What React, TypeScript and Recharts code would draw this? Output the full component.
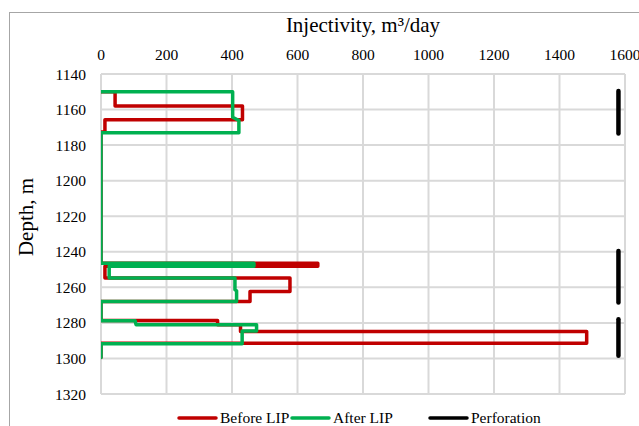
import React from 'react';
import { ScatterChart, Scatter, XAxis, YAxis, CartesianGrid, Legend, Label } from 'recharts';

// Axis ticks
const depthTicks = [1140, 1160, 1180, 1200, 1220, 1240, 1260, 1280, 1300, 1320];
const rateTicks = [0, 200, 400, 600, 800, 1000, 1200, 1400, 1600];

// Injectivity profile before LIP treatment (step outline, depth m / rate m3/day)
const beforeDepth = [1150, 1150, 1158, 1158, 1165.8, 1165.8, 1172.6, 1172.6, 1246.5, 1246.5, 1248.2, 1248.2, 1254.7, 1254.7, 1262.3, 1262.3, 1268, 1268, 1278.6, 1278.6, 1281, 1281, 1284.8, 1284.8, 1291.5, 1291.5, 1299.5];
const beforeRate = [0, 43, 43, 432, 432, 12, 12, 0, 0, 662, 662, 12, 12, 577, 577, 455, 455, 0, 0, 356, 356, 426, 426, 1483, 1483, 0, 0];

// Injectivity profile after LIP treatment
const afterDepth = [1150, 1150, 1164.3, 1166.2, 1173, 1173, 1246.5, 1246.5, 1248.2, 1248.2, 1254.7, 1254.7, 1261.3, 1262, 1268, 1268, 1278.8, 1278.8, 1281, 1281, 1284.5, 1284.5, 1291.7, 1291.7, 1299.5];
const afterRate = [0, 402, 402, 421, 421, 0, 0, 467, 467, 25, 25, 409, 409, 414, 414, 0, 0, 104, 107, 475, 475, 431, 431, 0, 0];

// Perforated intervals
const perfTop = [1149.5, 1239.5, 1278];
const perfBottom = [1173.5, 1268.5, 1298.5];
const perfRate = 1580;

const RED = '#C00000';
const GREEN = '#00B050';
const BLACK = '#000000';
const FONT = "'Liberation Serif', 'Times New Roman', serif";

const toPoints = (depth: number[], rate: number[]) =>
  depth.map((d, i) => ({ d, q: rate[i] }));

const beforeData = toPoints(beforeDepth, beforeRate);
const afterData = toPoints(afterDepth, afterRate);
const perfData = perfTop.map((t, i) => [
  { d: t, q: perfRate },
  { d: perfBottom[i], q: perfRate },
]);

const legendItems = [
  { name: 'Before LIP', color: RED, x: 179 },
  { name: 'After LIP', color: GREEN, x: 292 },
  { name: 'Perforation', color: BLACK, x: 430 },
];

const noDot = () => <g />;

const LegendContent = () => (
  <svg width={639} height={18} style={{ display: 'block', overflow: 'visible' }}>
    {legendItems.map((it) => (
      <g key={it.name}>
        <line x1={it.x} x2={it.x + 37} y1={10} y2={10} stroke={it.color} strokeWidth={3.5} strokeLinecap="round" />
        <text x={it.x + 41} y={15} fontFamily={FONT} fontSize={15.5} fill="#000">
          {it.name}
        </text>
      </g>
    ))}
  </svg>
);

// Serif tick labels: depth ticks are vertically centred, rate ticks sit on their baseline
const DepthTick = (props: any) => (
  <text x={props.x} y={props.y} dy="0.355em" textAnchor="end" fontFamily={FONT} fontSize={15.5} fill="#000">
    {props.payload.value}
  </text>
);

const RateTick = (props: any) => (
  <text x={props.x} y={props.y} textAnchor="middle" fontFamily={FONT} fontSize={15.5} fill="#000">
    {props.payload.value}
  </text>
);

export default function App() {
  return (
    <div
      style={{
        position: 'absolute',
        left: 0,
        top: 0,
        width: 639,
        height: 426,
        overflow: 'hidden',
        background: '#fff',
        fontFamily: FONT,
      }}
    >
      <div
        style={{
          position: 'absolute',
          left: 9,
          top: 12,
          width: 700,
          height: 500,
          border: '1.5px solid #a6a6a6',
          boxSizing: 'border-box',
        }}
      />
      <div style={{ position: 'absolute', left: 0, top: 0 }}>
        <ScatterChart width={639} height={426} margin={{ top: 34, left: 41, right: 14, bottom: 32 }}>
          <CartesianGrid stroke="#d9d9d9" strokeWidth={2} />
          <XAxis
            type="number"
            dataKey="q"
            orientation="top"
            domain={[0, 1600]}
            ticks={rateTicks}
            interval={0}
            allowDataOverflow
            height={40}
            tickSize={0}
            tickMargin={14}
            axisLine={false}
            tick={RateTick}
          >
            <Label
              content={({ viewBox }: any) => (
                <text
                  x={viewBox.x + viewBox.width / 2}
                  y={viewBox.y - 2}
                  textAnchor="middle"
                  fontFamily={FONT}
                  fontSize={21}
                  fill="#000"
                >
                  Injectivity, m³/day
                </text>
              )}
            />
          </XAxis>
          <YAxis
            type="number"
            dataKey="d"
            reversed
            domain={[1140, 1320]}
            ticks={depthTicks}
            interval={0}
            allowDataOverflow
            width={60}
            tickSize={0}
            tickMargin={15}
            axisLine={false}
            tick={DepthTick}
          >
            <Label
              content={({ viewBox }: any) => {
                const cx = viewBox.x - 8;
                const cy = viewBox.y + 143;
                return (
                  <text
                    x={cx}
                    y={cy}
                    transform={`rotate(-90 ${cx} ${cy})`}
                    textAnchor="middle"
                    fontFamily={FONT}
                    fontSize={21}
                    fill="#000"
                  >
                    Depth, m
                  </text>
                );
              }}
            />
          </YAxis>
          <Legend
            layout="horizontal"
            verticalAlign="middle"
            align="center"
            content={LegendContent}
            wrapperStyle={{ position: 'absolute', left: 0, top: 408, width: 639, height: 18 }}
          />
          <Scatter
            name="Before LIP"
            data={beforeData}
            fill={RED}
            line={{ stroke: RED, strokeWidth: 3.5, strokeLinejoin: 'round', strokeLinecap: 'round' }}
            lineType="joint"
            shape={noDot}
            isAnimationActive={false}
          />
          <Scatter
            name="After LIP"
            data={afterData}
            fill={GREEN}
            line={{ stroke: GREEN, strokeWidth: 3.5, strokeLinejoin: 'round', strokeLinecap: 'round' }}
            lineType="joint"
            shape={noDot}
            isAnimationActive={false}
          />
          {perfData.map((seg, i) => (
            <Scatter
              key={i}
              name="Perforation"
              data={seg}
              fill={BLACK}
              line={{ stroke: BLACK, strokeWidth: 4.5, strokeLinecap: 'round' }}
              lineType="joint"
              shape={noDot}
              isAnimationActive={false}
            />
          ))}
        </ScatterChart>
      </div>
    </div>
  );
}
